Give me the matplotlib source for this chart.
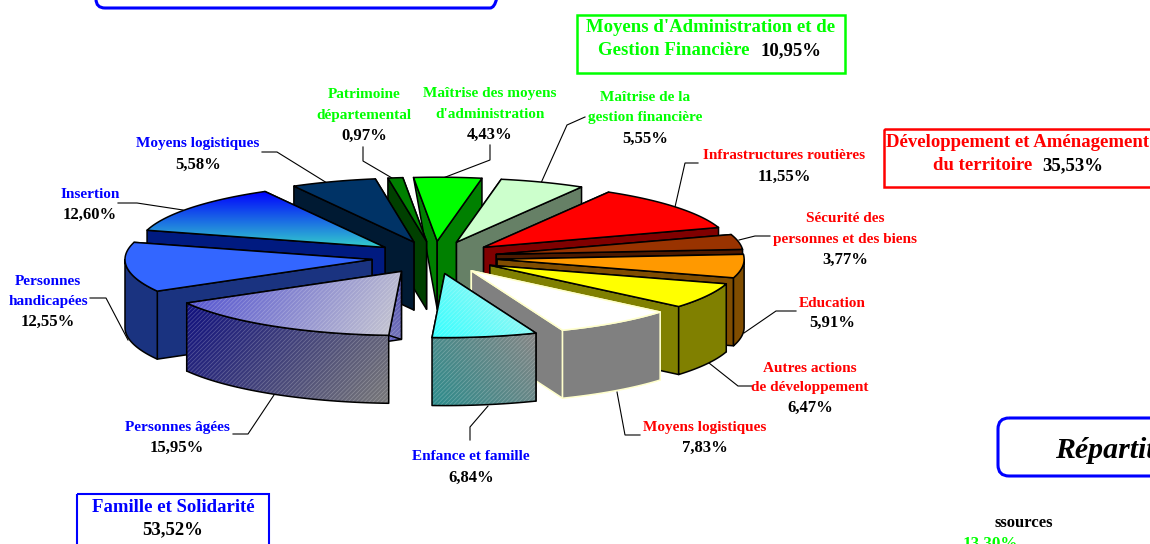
import numpy as np
import matplotlib
matplotlib.use("Agg")
import matplotlib.pyplot as plt
from matplotlib.patches import Polygon, Rectangle, FancyBboxPatch
from matplotlib.colors import to_rgb

plt.rcParams['font.family'] = ['Liberation Serif', 'DejaVu Serif']
plt.rcParams['hatch.linewidth'] = 0.5

# ---- data (clockwise from the start angle) ----
categories = ["Patrimoine départemental", "Maîtrise des moyens d'administration",
              "Maîtrise de la gestion financière", "Infrastructures routières",
              "Sécurité des personnes et des biens", "Education",
              "Autres actions de développement", "Moyens logistiques (dév.)",
              "Enfance et famille", "Personnes âgées", "Personnes handicapées",
              "Insertion", "Moyens logistiques (sol.)"]
values = [0.97, 4.43, 5.55, 11.55, 3.77, 5.91, 6.47, 7.83, 6.84, 15.95, 12.55, 12.60, 5.58]
label_lines = [["Patrimoine", "départemental"], ["Maîtrise des moyens", "d'administration"],
               ["Maîtrise de la", "gestion financière"], ["Infrastructures routières"],
               ["Sécurité des", "personnes et des biens"], ["Education"],
               ["Autres actions", "de développement"], ["Moyens logistiques"],
               ["Enfance et famille"], ["Personnes âgées"], ["Personnes", "handicapées"],
               ["Insertion"], ["Moyens logistiques"]]
label_colors = ['#00FF00'] * 3 + ['#FF0000'] * 5 + ['#0000FF'] * 5
top_colors = ['#008000', '#00FF00', '#CCFFCC', '#FF0000', '#993300', '#FF9900', '#FFFF00',
              '#FFFFFF', '#66FFFF', '#7777CC', '#3366FF', '#1166DD', '#003366']
side_colors = ['#004000', '#008000', '#668066', '#800000', '#4D1A00', '#804D00', '#808000',
               '#808080', '#5A9090', '#404090', '#1A3380', '#001A80', '#001A33']
edge_colors = ['black'] * 7 + ['#FFFFCC'] + ['black'] * 5
draw_order = [1, 0, 12, 2, 3, 11, 4, 5, 10, 6, 9, 7, 8]

# ---- layout ----
START = -9.0
CX, CY = 434.5, 257.5
RX, RY = 247.0, 64.0
EXPLODE = 0.255
DEPTH = 68.0

label_pos = [(364, 94.5, 20.5), (490, 93.5, 20.5), (645, 97.5, 20.5), (784, 155.5, 21), (845, 218.5, 20.5),
             (832, 303.5, 19.5), (810, 368.5, 19.5), (705, 427.5, 20), (471, 456.5, 21), (177, 427.5, 20),
             (48, 281.5, 20), (90, 194.5, 20), (198, 143.5, 21)]
leaders = [[(363, 147), (363, 161), (392, 178)], [(490, 145), (490, 160), (443, 178)],
           [(541, 183), (567, 125), (585, 117)], [(675, 207), (685, 163), (698, 163)],
           [(739, 240), (755, 236), (770, 236)], [(744, 333), (776, 311), (796, 311)],
           [(709, 363), (738, 386), (752, 386)], [(617, 392), (625, 435), (640, 435)],
           [(488, 406), (470, 427), (470, 440)], [(274, 395), (248, 434), (233, 434)],
           [(128, 340), (106, 298), (90, 298)], [(183, 210), (137, 203), (118, 203)],
           [(327, 183), (277, 152), (262, 152)]]

fig = plt.figure(figsize=(11.5, 5.44), dpi=100)
ax = fig.add_axes([0, 0, 1, 1])
ax.set_xlim(0, 1150)
ax.set_ylim(544, 0)
ax.axis('off')

z = [10]


def nz():
    z[0] += 1
    return z[0]


def gradient_fill(pts, c0, c1, direction):
    """Fill polygon pts with a linear colour ramp along the given direction."""
    pts = np.asarray(pts)
    poly = Polygon(pts, closed=True, fc='none', ec='none', transform=ax.transData, zorder=nz())
    ax.add_patch(poly)
    xmin, ymin = pts.min(axis=0)
    xmax, ymax = pts.max(axis=0)
    xs = np.linspace(xmin, xmax, 200)
    ys = np.linspace(ymin, ymax, 120)
    X, Y = np.meshgrid(xs, ys)
    proj = X * direction[0] + Y * direction[1]
    t = (proj - proj.min()) / (proj.max() - proj.min())
    rgb = np.array(to_rgb(c0))[None, None, :] * (1 - t[..., None]) + np.array(to_rgb(c1))[None, None, :] * t[..., None]
    im = ax.imshow(rgb, extent=(xmin, xmax, ymax, ymin), origin='upper', aspect='auto',
                   zorder=poly.get_zorder(), interpolation='bilinear')
    im.set_clip_path(poly)
    ax.set_xlim(0, 1150)
    ax.set_ylim(544, 0)


def hatch_over(pts, alpha=0.25):
    ax.add_patch(Polygon(pts, closed=True, fill=False, hatch='////////',
                         ec=(1, 1, 1, alpha), lw=0, zorder=nz()))


def outline(pts, ec, lw=1.1):
    ax.add_patch(Polygon(pts, closed=True, fill=False, ec=ec, lw=lw, joinstyle='round', zorder=nz()))


# gradients keyed by slice index: part -> (colour from, colour to, direction)
gradients = {
    8: {'top': ('#33FFFF', '#B8F4F0', (0.7, -0.7)), 'front': ('#2C8C8C', '#858585', (0.8, -0.6)),
        'start': ('#6FAFAF', '#6FAFAF', (1, 0)), 'end': ('#6FAFAF', '#6FAFAF', (1, 0))},
    9: {'top': ('#4C4CD0', '#C8C8D0', (0.85, 0.5)), 'front': ('#10107E', '#787878', (0.75, 0.65)),
        'start': ('#5050B0', '#7070B8', (0, 1)), 'end': ('#6060C0', '#6060C0', (0, 1))},
    11: {'top': ('#0000FF', '#33CCCC', (0, 1))},
}
hatched = {8, 9}

fractions = np.array(values) / sum(values) * 360.0
starts = START + np.concatenate(([0.0], np.cumsum(fractions)[:-1]))
ends = starts + fractions


def rim(angles, ox, oy, dy=0.0):
    a = np.radians(angles)
    return np.column_stack((ox + RX * np.sin(a), oy - RY * np.cos(a) + dy))


for i in draw_order:
    a0, a1 = starts[i], ends[i]
    mid = np.radians((a0 + a1) / 2)
    ox = CX + EXPLODE * RX * np.sin(mid)
    oy = CY - EXPLODE * RY * np.cos(mid)
    arc = np.linspace(a0, a1, 60)
    top = np.vstack(([[ox, oy]], rim(arc, ox, oy)))
    ec = edge_colors[i]
    grad = gradients.get(i, {})

    def paint(pts, part, base):
        if part in grad:
            gradient_fill(pts, *grad[part])
        else:
            ax.add_patch(Polygon(pts, closed=True, fc=base, ec='none', zorder=nz()))
        if i in hatched:
            hatch_over(pts)
        outline(pts, ec)

    # radial walls, the one reaching lower on screen painted last
    walls = []
    for name, a in (('start', a0), ('end', a1)):
        p = rim([a], ox, oy)[0]
        if abs(np.sin(np.radians(a))) < 0.1:   # far wall seen at a grazing angle tapers to its rim corner
            quad = [(ox, oy), tuple(p), (ox, oy + DEPTH)]
        else:
            quad = [(ox, oy), tuple(p), (p[0], p[1] + DEPTH), (ox, oy + DEPTH)]
        walls.append((p[1], name, quad))
    for _, name, quad in sorted(walls, key=lambda w: w[0]):
        paint(quad, name, side_colors[i])

    # outer wall: only the part of the rim that faces the viewer
    lo, hi = max(a0, 90.0), min(a1, 270.0)
    if lo < hi:
        ang = np.linspace(lo, hi, 60)
        upper = rim(ang, ox, oy)
        lower = rim(ang[::-1], ox, oy, DEPTH)
        paint(np.vstack((upper, lower)), 'front', side_colors[i])

    # top face
    paint(top, 'top', top_colors[i])

# leader lines
for pts in leaders:
    p = np.array(pts)
    ax.plot(p[:, 0], p[:, 1], color='black', lw=0.8, zorder=5, solid_joinstyle='miter')

# slice labels
LS = 11.0
PS = 12.0
for lines, col, v, (x, y, step) in zip(label_lines, label_colors, values, label_pos):
    for k, s in enumerate(lines):
        ax.text(x, y + k * step, s, color=col, fontsize=LS, fontweight='bold', ha='center', va='center', zorder=50)
    ax.text(x, y + len(lines) * step, f"{v:.2f}".replace('.', ',') + '%', color='black', fontsize=PS,
            fontweight='bold', ha='center', va='center', zorder=50)

# group boxes
group_names = ["Moyens d'Administration et de", "Développement et Aménagement", "Famille et Solidarité"]
group_values = [sum(values[:3]), sum(values[3:8]), sum(values[8:])]
fmt = lambda v: f"{v:.2f}".replace('.', ',') + '%'
BS = 13.5

ax.add_patch(Rectangle((577, 15), 268, 58, fill=False, ec='#00FF00', lw=1.8, zorder=40))
ax.text(711, 27.5, group_names[0], color='#00FF00', fontsize=BS, fontweight='bold', ha='center', va='center')
ax.text(750, 50.5, "Gestion Financière", color='#00FF00', fontsize=BS, fontweight='bold', ha='right', va='center')
ax.text(761, 50.5, fmt(group_values[0]), color='black', fontsize=BS, fontweight='bold', ha='left', va='center')

ax.add_patch(Rectangle((884, 129), 300, 58, fill=False, ec='#FF0000', lw=1.8, zorder=40))
ax.text(1018, 142.5, group_names[1], color='#FF0000', fontsize=BS, fontweight='bold', ha='center', va='center')
ax.text(1032, 165.5, "du territoire", color='#FF0000', fontsize=BS, fontweight='bold', ha='right', va='center')
ax.text(1042, 165.5, fmt(group_values[1]), color='black', fontsize=BS, fontweight='bold', ha='left', va='center')

ax.add_patch(Rectangle((77, 494), 192, 70, fill=False, ec='#0000FF', lw=1.5, zorder=40))
ax.text(173, 508, group_names[2], color='#0000FF', fontsize=BS, fontweight='bold', ha='center', va='center')
ax.text(173, 530, fmt(group_values[2]), color='black', fontsize=BS, fontweight='bold', ha='center', va='center')

# rounded frames cut by the page edges
ax.add_patch(FancyBboxPatch((96, -40), 403, 48, boxstyle="round,pad=0,rounding_size=9",
                            fill=False, ec='#0000FF', lw=2.2, zorder=40))
ax.add_patch(FancyBboxPatch((998, 418), 300, 58, boxstyle="round,pad=0,rounding_size=11",
                            fill=False, ec='#0000FF', lw=2.2, zorder=40))
ax.text(1055, 450, "Répartition", color='black', fontsize=21.5, fontweight='bold', fontstyle='italic',
        ha='left', va='center', clip_on=True)

# fragments of the neighbouring chart
ax.text(1024, 523, "ssources", color='black', fontsize=12, fontweight='bold', ha='center', va='center')
ax.text(990, 544, "13,30%", color='#00FF00', fontsize=12.3, fontweight='bold', ha='center', va='center', clip_on=True)

fig.savefig('out.png', dpi=100)
